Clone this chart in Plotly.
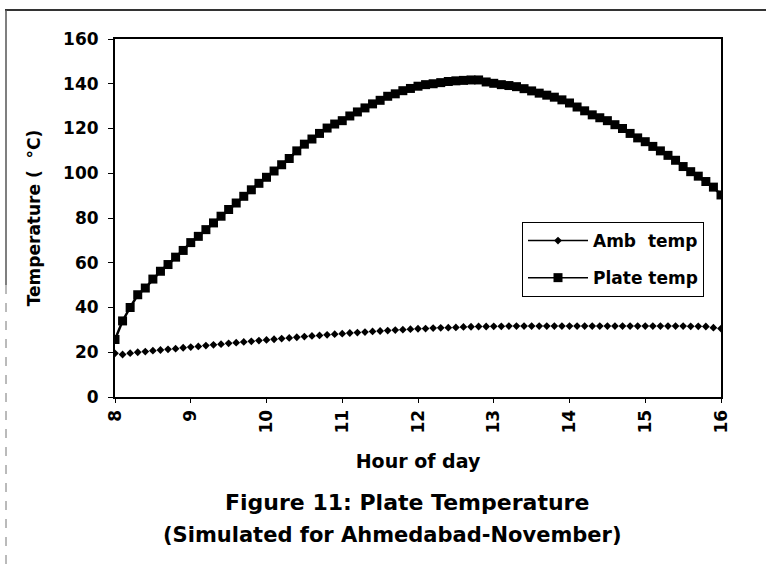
import plotly.graph_objects as go

# Hours of day (0.1 h steps from 8 to 16)
hours = [round(8 + i * 0.1, 1) for i in range(81)]

amb_temp = [
    19.5, 19.0, 19.6, 20.0, 20.3, 20.7, 21.0, 21.3, 21.6, 22.0,
    22.3, 22.6, 23.0, 23.3, 23.6, 24.0, 24.3, 24.6, 24.9, 25.2,
    25.5, 25.8, 26.1, 26.4, 26.7, 27.0, 27.3, 27.5, 27.8, 28.1,
    28.3, 28.6, 28.8, 29.0, 29.3, 29.5, 29.7, 29.9, 30.1, 30.3,
    30.5, 30.6, 30.8, 30.9, 31.0, 31.1, 31.3, 31.4, 31.5, 31.5,
    31.6, 31.6, 31.7, 31.7, 31.7, 31.7, 31.7, 31.7, 31.7, 31.7,
    31.7, 31.7, 31.7, 31.7, 31.7, 31.7, 31.7, 31.7, 31.7, 31.7,
    31.7, 31.7, 31.7, 31.7, 31.7, 31.7, 31.6, 31.6, 31.5, 31.0,
    30.6,
]

plate_temp = [
    25.7, 34.0, 40.0, 45.7, 48.7, 52.7, 56.2, 59.2, 62.5, 65.5,
    69.0, 71.8, 74.8, 77.8, 80.8, 83.8, 86.7, 89.7, 92.6, 95.5,
    98.2, 101.0, 103.8, 106.6, 110.0, 113.0, 115.3, 117.8, 120.2, 122.0,
    123.5, 125.6, 127.4, 129.2, 131.0, 132.6, 134.4, 135.5, 136.9, 137.9,
    138.9, 139.6, 140.0, 140.5, 141.0, 141.3, 141.5, 141.7, 141.7, 140.8,
    140.2, 139.6, 139.2, 138.7, 137.8, 136.8, 135.8, 134.9, 134.0, 132.8,
    131.4, 129.6, 127.9, 126.1, 124.8, 123.5, 121.7, 120.0, 117.8, 115.8,
    114.1, 112.0, 110.0, 108.0, 105.8, 103.0, 100.7, 98.7, 96.3, 93.8,
    90.3,
]

x_ticks = [8, 9, 10, 11, 12, 13, 14, 15, 16]
y_ticks = [0, 20, 40, 60, 80, 100, 120, 140, 160]

FONT = "DejaVu Sans"

fig = go.Figure()

# Ambient temperature: small diamonds (line faint in the scan)
fig.add_trace(go.Scatter(
    x=hours, y=amb_temp, mode="markers", name="Amb  temp",
    marker=dict(symbol="diamond", size=6, color="black"),
    showlegend=False,
))
# Plate temperature: squares with line
fig.add_trace(go.Scatter(
    x=hours, y=plate_temp, mode="lines+markers", name="Plate temp",
    line=dict(color="black", width=2.5),
    marker=dict(symbol="square", size=9, color="black"),
    showlegend=False,
))
# Legend entries
fig.add_trace(go.Scatter(
    x=[None], y=[None], mode="lines+markers", name="Amb  temp",
    legendgroup="a",
    line=dict(color="black", width=1.5),
    marker=dict(symbol="diamond", size=6, color="black"),
))
fig.add_trace(go.Scatter(
    x=[None], y=[None], mode="lines+markers", name="Plate temp",
    legendgroup="b",
    line=dict(color="black", width=1.5),
    marker=dict(symbol="square", size=9, color="black"),
))

W, H = 766, 570
L, R, T, B = 115, 45, 39, 173
pw, ph = W - L - R, H - T - B


def px(xp):
    return (xp - L) / pw


def py(yp):
    return (H - B - yp) / ph


fig.update_layout(
    width=W, height=H,
    margin=dict(l=L, r=R, t=T, b=B),
    paper_bgcolor="white", plot_bgcolor="white",
    font=dict(family=FONT, color="black", size=16, weight="bold"),
    showlegend=True,
    legend=dict(
        x=px(522), y=py(222), xanchor="left", yanchor="top",
        bordercolor="black", borderwidth=1, bgcolor="white",
        font=dict(family=FONT, size=17, weight="bold"),
        itemwidth=60, tracegroupgap=12,
    ),
    xaxis=dict(
        range=[8, 16], tickvals=x_ticks, ticktext=[str(v) for v in x_ticks],
        tickangle=-90, showgrid=False, zeroline=False,
        showline=True, linecolor="black", linewidth=2, mirror=True,
        ticks="outside", ticklen=4, tickcolor="black",
        tickfont=dict(family=FONT, size=17, weight="bold"),
        title=dict(text="Hour of day", standoff=22,
                   font=dict(family=FONT, size=19, weight="bold")),
    ),
    yaxis=dict(
        range=[0, 160], tickvals=y_ticks, showgrid=False, zeroline=False,
        showline=True, linecolor="black", linewidth=2, mirror=True,
        ticks="outside", ticklen=5, tickcolor="black",
        ticklabelstandoff=6,
        tickfont=dict(family=FONT, size=17, weight="bold"),
        title=dict(text="Temperature (  °C)", standoff=18,
                   font=dict(family=FONT, size=17, weight="bold")),
    ),
)

fig.add_annotation(
    text="Figure 11: Plate Temperature",
    xref="paper", yref="paper", x=px(407), y=py(502),
    xanchor="center", yanchor="middle", showarrow=False,
    font=dict(family=FONT, size=22, weight="bold"),
)
fig.add_annotation(
    text="(Simulated for Ahmedabad-November)",
    xref="paper", yref="paper", x=px(392), y=py(535),
    xanchor="center", yanchor="middle", showarrow=False,
    font=dict(family=FONT, size=21, weight="bold"),
)

# Outer frame of the scanned page
fig.add_shape(type="line", xref="paper", yref="paper",
              x0=px(5), x1=px(766), y0=py(10), y1=py(10),
              line=dict(color="#333333", width=2))
fig.add_shape(type="line", xref="paper", yref="paper",
              x0=px(6), x1=px(6), y0=py(10), y1=py(285),
              line=dict(color="#555555", width=1.5))
fig.add_shape(type="line", xref="paper", yref="paper",
              x0=px(6), x1=px(6), y0=py(285), y1=py(570),
              line=dict(color="#777777", width=1, dash="dash"))

fig.write_html("out.html", config={"displayModeBar": False},
               post_script="document.body.style.margin='0px';")
